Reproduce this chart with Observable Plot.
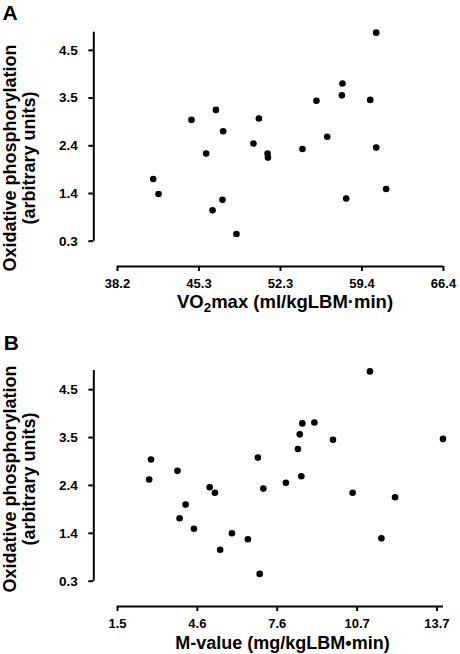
<!DOCTYPE html>
<html><head><meta charset="utf-8">
<script src="https://cdn.jsdelivr.net/npm/d3@7"></script>
<script src="https://cdn.jsdelivr.net/npm/@observablehq/plot@0.6"></script>
<style>
html,body{margin:0;padding:0;background:#fff;}
#chart{width:460px;}
#chart svg{display:block;}
</style></head><body><div id="chart"></div>
<script>
// Panel A: VO2max vs oxidative phosphorylation
const vo2max  = [60.58,57.66,57.61,55.41,60.06,46.71,44.60,50.43,47.34,56.34,49.96,60.58,54.20,45.87,51.18,51.21,41.29,41.75,61.44,47.28,57.98,46.42,48.49];
const oxphosA = [4.89,3.77,3.51,3.39,3.41,3.19,2.97,3.00,2.72,2.60,2.45,2.36,2.33,2.23,2.23,2.14,1.67,1.34,1.45,1.21,1.24,0.98,0.46];
// Panel B: M-value vs oxidative phosphorylation
const mValue  = [11.14,8.56,9.02,8.46,9.73,13.93,8.39,2.78,6.86,3.79,8.52,2.71,7.93,5.02,7.07,5.22,10.48,12.10,4.10,3.87,4.42,5.87,6.48,11.58,5.42,6.93];
const oxphosB = [4.90,3.76,3.78,3.52,3.40,3.42,3.20,2.97,3.01,2.72,2.60,2.53,2.46,2.36,2.33,2.24,2.24,2.14,1.98,1.68,1.45,1.35,1.22,1.24,0.99,0.46];

const yTicks = [0.3, 1.35, 2.4, 3.45, 4.5];
const yTickLabels = ["0.3", "1.4", "2.4", "3.5", "4.5"];
const xTicksA = [38.2, 45.25, 52.3, 59.35, 66.4];
const xTickLabelsA = ["38.2", "45.3", "52.3", "59.4", "66.4"];
const xTicksB = [1.5, 4.55, 7.6, 10.65, 13.7];
const xTickLabelsB = ["1.5", "4.6", "7.6", "10.7", "13.7"];

const yTitle = "Oxidative phosphorylation\n(arbitrary units)";
const xTitleA = "VO\u2082max (ml/kgLBM\u00B7min)";
const xTitleB = "M-value (mg/kgLBM\u2022min)";
const panelLetters = ["A", "B"];

const FONT = "'Liberation Sans', Arial, Helvetica, sans-serif";

function panel(o) {
  const data = o.x.map((v, i) => ({x: v, y: o.y[i]}));
  const svg = Plot.plot({
    width: 460, height: o.height,
    marginLeft: 117, marginRight: 17, marginTop: o.marginTop, marginBottom: o.marginBottom,
    style: {fontFamily: FONT, fontWeight: "bold", color: "#000", background: "#fff", overflow: "visible"},
    x: {domain: o.xDomain, label: null},
    y: {domain: o.yDomain, label: null},
    marks: [
      Plot.ruleY([o.yDomain[0]], {x1: o.xDomain[0], x2: o.xDomain[1], dy: 25.3, strokeWidth: 2, stroke: "#000"}),
      Plot.ruleX([o.xDomain[0]], {y1: o.yDomain[0], y2: o.yDomain[1], dx: -23.7, strokeWidth: 2, stroke: "#000"}),
      Plot.axisX({ticks: o.xTicks, tickFormat: d => o.xLabels[o.xTicks.indexOf(d)], tickSize: 5, tickPadding: 7, dy: 25.3, strokeWidth: 2, fontSize: 13, label: null}),
      Plot.axisY({ticks: yTicks, tickFormat: d => yTickLabels[yTicks.indexOf(d)], tickSize: 5, tickPadding: 11, dx: -23.7, strokeWidth: 2, fontSize: 13.5, label: null}),
      Plot.dot(data, {x: "x", y: "y", r: 3.3, fill: "#000", stroke: null}),
      Plot.text([o.xTitle], {text: d => d, frameAnchor: "bottom", textAnchor: "middle", dx: o.xTitleDx, dy: o.xTitleDy, fontSize: o.xTitleSize, lineAnchor: "middle"}),
      Plot.text([yTitle], {text: d => d, frameAnchor: "left", textAnchor: "middle", rotate: -90, dx: -98.3, dy: o.yTitleDy, fontSize: 18, lineHeight: 1.08, lineAnchor: "middle"}),
      Plot.text([o.letter], {text: d => d, frameAnchor: "top-left", textAnchor: "start", lineAnchor: "top", dx: o.letterDx, dy: o.letterDy, fontSize: 21})
    ]
  });
  // render subscript digit as a lowered, smaller tspan
  svg.querySelectorAll("text").forEach(t => {
    const s = t.textContent;
    if (s.includes("\u2082") && t.children.length === 0) {
      const [a, b] = s.split("\u2082");
      t.textContent = "";
      const ns = "http://www.w3.org/2000/svg";
      const t1 = document.createElementNS(ns, "tspan"); t1.textContent = a;
      const t2 = document.createElementNS(ns, "tspan"); t2.textContent = "2"; t2.setAttribute("font-size", "13.5"); t2.setAttribute("dy", "4");
      const t3 = document.createElementNS(ns, "tspan"); t3.textContent = b; t3.setAttribute("dy", "-4");
      t.append(t1, t2, t3);
    }
  });
  return svg;
}

const chart = document.getElementById("chart");
chart.append(panel({
  letter: panelLetters[0], x: vo2max, y: oxphosA,
  xTicks: xTicksA, xLabels: xTickLabelsA, xDomain: [38.2, 66.4], yDomain: [0.3, 4.9],
  xTitle: xTitleA, xTitleSize: 18.5, height: 330, marginTop: 31.7, marginBottom: 89.3,
  xTitleDx: 4.5, xTitleDy: 61, yTitleDy: 21.3, letterDx: -115, letterDy: -26.7
}));
chart.append(panel({
  letter: panelLetters[1], x: mValue, y: oxphosB,
  xTicks: xTicksB, xLabels: xTickLabelsB, xDomain: [1.5, 13.95], yDomain: [0.3, 4.92],
  xTitle: xTitleB, xTitleSize: 18, height: 324, marginTop: 40, marginBottom: 73.3,
  xTitleDx: 2, xTitleDy: 62.3, yTitleDy: 3.2, letterDx: -113.7, letterDy: -35
}));
</script>
</body></html>
